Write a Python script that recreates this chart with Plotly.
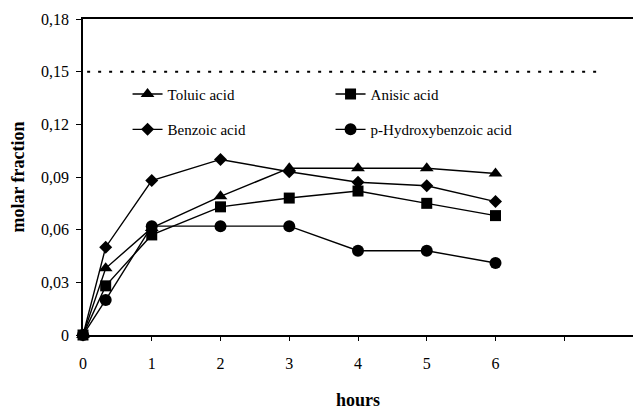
import plotly.graph_objects as go

hours = [0, 0.33, 1, 2, 3, 4, 5, 6]
toluic = [0, 0.038, 0.061, 0.079, 0.095, 0.095, 0.095, 0.092]
anisic = [0, 0.028, 0.057, 0.073, 0.078, 0.082, 0.075, 0.068]
benzoic = [0, 0.050, 0.088, 0.100, 0.093, 0.087, 0.085, 0.076]
hydroxy = [0, 0.020, 0.062, 0.062, 0.062, 0.048, 0.048, 0.041]

limit_x = [0.06, 7.48]
limit_y = [0.15, 0.15]

x_tickvals = [0, 1, 2, 3, 4, 5, 6, 7, 8]
x_ticktext = ["0", "1", "2", "3", "4", "5", "6", "", ""]
y_tickvals = [0, 0.03, 0.06, 0.09, 0.12, 0.15, 0.18]
y_ticktext = ["0", "0,03", "0,06", "0,09", "0,12", "0,15", "0,18"]

FONT = "Liberation Serif, Times New Roman, serif"

fig = go.Figure()

fig.add_trace(go.Scatter(x=limit_x, y=limit_y, mode="lines",
                         line=dict(color="black", width=2, dash="3px,8px"),
                         showlegend=False, hoverinfo="skip"))

series = [
    ("Toluic acid", toluic, "triangle-up", 12, "legend"),
    ("Anisic acid", anisic, "square", 11, "legend"),
    ("Benzoic acid", benzoic, "diamond", 10, "legend2"),
    ("p-Hydroxybenzoic acid", hydroxy, "circle", 12, "legend2"),
]
for name, vals, sym, sz, leg in series:
    fig.add_trace(go.Scatter(
        x=hours, y=vals, mode="lines+markers", name=name,
        line=dict(color="black", width=1.4),
        marker=dict(symbol=sym, size=sz, color="black"),
        legend=leg, cliponaxis=False,
    ))

legend_common = dict(
    orientation="h", xanchor="left", yanchor="middle",
    entrywidth=158, entrywidthmode="pixels",
    bgcolor="rgba(0,0,0,0)", font=dict(family=FONT, size=15, color="black"),
    itemwidth=30,
)

fig.update_layout(
    width=633, height=414,
    margin=dict(l=83, r=0, t=19, b=79),
    paper_bgcolor="white", plot_bgcolor="white",
    font=dict(family=FONT, size=16, color="black"),
    legend=dict(x=0.081, y=0.762, **legend_common),
    legend2=dict(x=0.081, y=0.65, **legend_common),
    xaxis=dict(
        range=[0, 8], tickvals=x_tickvals, ticktext=x_ticktext,
        showline=True, linecolor="black", linewidth=1.5, mirror=True,
        ticks="outside", ticklen=4, tickcolor="black",
        ticklabelstandoff=9,
        showgrid=False, zeroline=False,
        title=dict(text="<b>hours</b>", font=dict(family=FONT, size=18), standoff=22),
        tickfont=dict(family=FONT, size=16),
    ),
    yaxis=dict(
        range=[0, 0.18], tickvals=y_tickvals, ticktext=y_ticktext,
        showline=True, linecolor="black", linewidth=1.5,
        ticks="outside", ticklen=5, tickcolor="black",
        ticklabelstandoff=4,
        showgrid=False, zeroline=False,
        title=dict(text="<b>molar fraction</b>", font=dict(family=FONT, size=18), standoff=12),
        tickfont=dict(family=FONT, size=16),
    ),
)

fig.write_html("out.html")
